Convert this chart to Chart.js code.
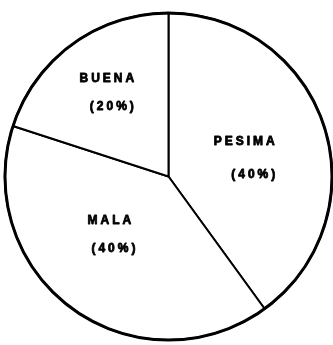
<!DOCTYPE html>
<html>
<head>
<meta charset="utf-8">
<script src="https://cdn.jsdelivr.net/npm/chart.js@4"></script>
<style>
  html, body { margin: 0; padding: 0; background: #fff; }
  #wrap { width: 333px; height: 345px; }
</style>
</head>
<body>
<div id="wrap"><canvas id="pieChart" width="333" height="345"></canvas></div>
<script>
// data
const labels = ['PESIMA', 'MALA', 'BUENA'];
const values = [40, 40, 20];
const percentLabels = ['(40%)', '(40%)', '(20%)'];

// label text drawn inside each slice
const sliceText = {
  id: 'sliceText',
  afterDatasetsDraw(chart, args, opts) {
    const ctx = chart.ctx;
    const arcs = chart.getDatasetMeta(0).data;
    ctx.save();
    // thicker outer rim
    const a0 = arcs[0];
    ctx.beginPath();
    ctx.arc(a0.x, a0.y, a0.outerRadius, 0, Math.PI * 2);
    ctx.lineWidth = 3;
    ctx.strokeStyle = '#000';
    ctx.stroke();

    ctx.fillStyle = '#000';
    ctx.strokeStyle = '#000';
    ctx.lineWidth = 0.8;
    ctx.lineJoin = 'round';
    ctx.font = 'bold 12px "Liberation Sans", Arial, sans-serif';
    ctx.letterSpacing = '3px';
    ctx.textBaseline = 'middle';
    ctx.textAlign = 'left';
    arcs.forEach((arc, i) => {
      const mid = (arc.startAngle + arc.endAngle) / 2;
      const r = arc.outerRadius * opts.radius[i];
      const cx = arc.x + Math.cos(mid) * r;
      const cy = arc.y + Math.sin(mid) * r;
      const lines = [labels[i], percentLabels[i]];
      lines.forEach((t, j) => {
        const w = ctx.measureText(t).width - 3;
        const dx = opts.shift[i][j][0];
        const dy = (j === 0 ? -opts.gap[i] / 2 : opts.gap[i] / 2) + opts.shift[i][j][1];
        ctx.fillText(t, cx + dx - w / 2, cy + dy);
        ctx.strokeText(t, cx + dx - w / 2, cy + dy);
      });
    });
    ctx.restore();
  }
};

new Chart(document.getElementById('pieChart'), {
  type: 'pie',
  data: {
    labels: labels,
    datasets: [{
      data: values,
      backgroundColor: '#fff',
      borderColor: '#000',
      borderWidth: 2
    }]
  },
  options: {
    responsive: false,
    animation: false,
    layout: { padding: { left: 4, top: 8, right: 0, bottom: 0 } },
    plugins: {
      legend: { display: false },
      tooltip: { enabled: false },
      sliceText: {
        radius: [0.5, 0.5, 0.6],
        gap: [33, 28, 28],
        shift: [[[-2, 7], [7, 7]], [[-11, -8], [-7, -8]], [[-4, -4], [1, -4]]]
      }
    }
  },
  plugins: [sliceText]
});
</script>
</body>
</html>
